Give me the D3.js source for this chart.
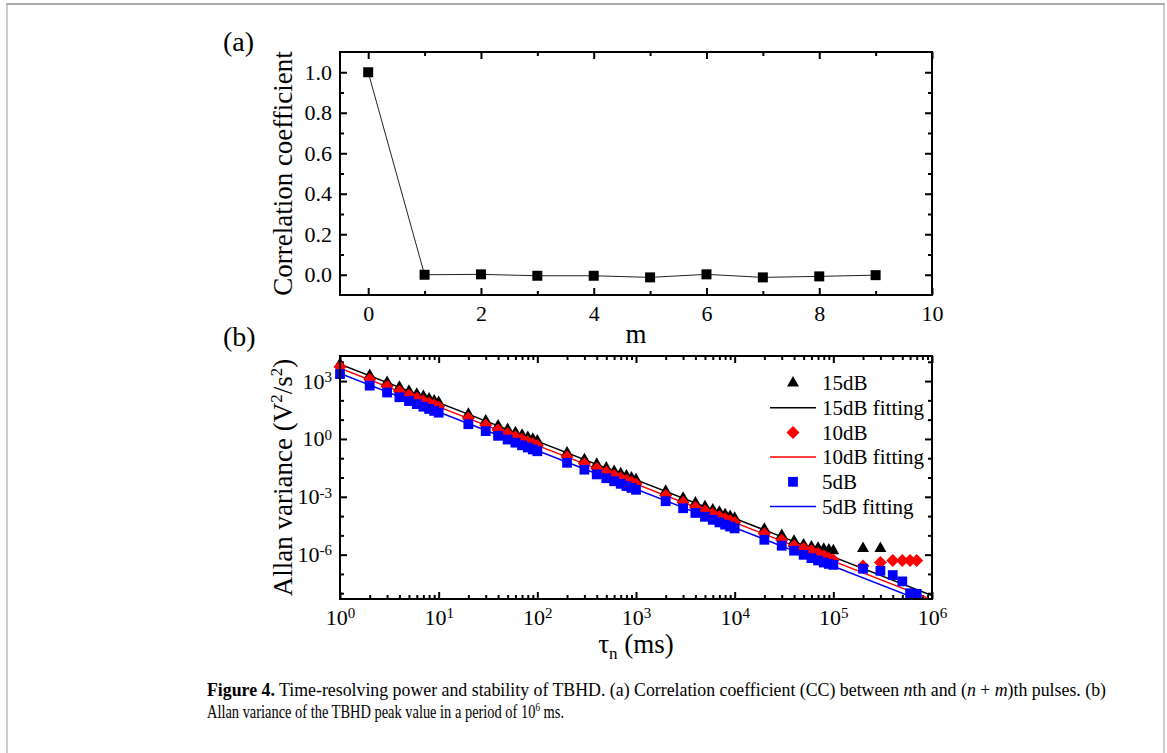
<!DOCTYPE html>
<html>
<head>
<meta charset="utf-8">
<script src="https://cdn.jsdelivr.net/npm/d3@7"></script>
<style>
  html, body { margin: 0; padding: 0; background: #fff; }
  svg text { font-family: "Liberation Serif", "Times New Roman", serif; fill: #000; }
</style>
</head>
<body>
<svg id="fig" width="1167" height="753"></svg>
<script>
// ---- panel (a) data: correlation coefficient vs m
const mVals = [0, 1, 2, 3, 4, 5, 6, 7, 8, 9];
const ccVals = [1.0, 0.0, 0.002, -0.005, -0.005, -0.013, 0.002, -0.013, -0.008, -0.002];
const mTicks = [0, 2, 4, 6, 8, 10];
const mMinor = [1, 3, 5, 7, 9];
const ccTicks = [0, 0.2, 0.4, 0.6, 0.8, 1.0];
const ccMinor = [0.1, 0.3, 0.5, 0.7, 0.9];

// ---- panel (b) data: Allan variance vs tau (ms)
const tau15 = [1, 2, 3, 4, 5, 6, 7, 8, 9, 10, 20, 30, 40, 50, 60, 70, 80, 90, 100,
  200, 300, 400, 500, 600, 700, 800, 900, 1000, 2000, 3000, 4000, 5000, 6000, 7000, 8000, 9000, 10000,
  20000, 30000, 40000, 50000, 60000, 70000, 80000, 90000, 100000, 200000, 300000];
const av15 = [7600, 1950, 860, 480, 300, 210, 160, 120, 95, 78,
  19, 8.6, 4.8, 3.1, 2.1, 1.55, 1.2, 0.96, 0.78,
  0.19, 0.085, 0.049, 0.031, 0.021, 0.0158, 0.012, 0.0095, 0.0077,
  1.95e-3, 8.6e-4, 4.8e-4, 3.1e-4, 2.1e-4, 1.6e-4, 1.2e-4, 9.6e-5, 7.8e-5,
  2.1e-5, 1.0e-5, 5.0e-6, 3.2e-6, 2.5e-6, 2.2e-6, 1.9e-6, 1.75e-6, 1.6e-6,
  2.1e-6, 2.1e-6];

const tau10 = [1, 2, 3, 4, 5, 6, 7, 8, 9, 10, 20, 30, 40, 50, 60, 70, 80, 90, 100,
  200, 300, 400, 500, 600, 700, 800, 900, 1000, 2000, 3000, 4000, 5000, 6000, 7000, 8000, 9000, 10000,
  20000, 30000, 40000, 50000, 60000, 70000, 80000, 90000, 100000,
  200000, 300000, 400000, 500000, 600000, 700000];
const av10 = [5500, 1200, 520, 290, 185, 128, 94, 72, 57, 46,
  11.8, 5.1, 2.9, 1.85, 1.3, 0.94, 0.72, 0.57, 0.46,
  0.115, 0.052, 0.029, 0.0185, 0.0128, 0.0094, 0.0073, 0.0057, 0.0046,
  1.16e-3, 5.1e-4, 2.9e-4, 1.85e-4, 1.3e-4, 9.5e-5, 7.2e-5, 5.7e-5, 4.7e-5,
  1.2e-5, 5.6e-6, 2.8e-6, 2.1e-6, 1.6e-6, 1.15e-6, 8.8e-7, 6.6e-7, 5.3e-7,
  2.6e-7, 3.9e-7, 5.0e-7, 5.0e-7, 5.0e-7, 5.0e-7];

const tau5 = tau10;
const av5 = [2300, 580, 255, 145, 92, 64, 47, 36, 28.5, 23,
  5.8, 2.55, 1.45, 0.93, 0.64, 0.47, 0.36, 0.285, 0.23,
  0.058, 0.0255, 0.0145, 0.0092, 0.0064, 0.0047, 0.0036, 0.0029, 0.0023,
  5.9e-4, 2.55e-4, 1.45e-4, 9.2e-5, 6.4e-5, 4.7e-5, 3.6e-5, 2.85e-5, 2.3e-5,
  5.9e-6, 2.9e-6, 1.6e-6, 9.8e-7, 6.6e-7, 5.0e-7, 3.9e-7, 3.3e-7, 2.95e-7,
  1.86e-7, 1.45e-7, 8.7e-8, 4.1e-8, 1.0e-8, 9.3e-9];

// fitted lines (end points, slope -2 on log-log)
const fitTau = [1, 1e6];
const fit15 = [7600, 7.6e-9];
const fit10 = [4600, 4.6e-9];
const fit5 = [2500, 2.5e-9];

const tauTicks = [1, 10, 100, 1e3, 1e4, 1e5, 1e6];
const avTicks = [1e3, 1, 1e-3, 1e-6];
const avMinor = [1e4, 1e2, 10, 0.1, 0.01, 1e-4, 1e-5, 1e-7, 1e-8];
const series = [
  {name: "15dB", tau: tau15, val: av15, fit: fit15, color: "#000000", shape: "tri"},
  {name: "10dB", tau: tau10, val: av10, fit: fit10, color: "#ff0000", shape: "dia"},
  {name: "5dB", tau: tau5, val: av5, fit: fit5, color: "#0000ff", shape: "sq"}
];

const FONT = '"Liberation Serif", "Times New Roman", serif';
const svg = d3.select("#fig");

// outer figure box
svg.append("rect").attr("x", 7).attr("y", 4).attr("width", 1157).attr("height", 800)
    .attr("fill", "none").attr("stroke", "#cdcdcd").attr("stroke-width", 2);
svg.append("line").attr("x1", 6).attr("x2", 1165).attr("y1", 4).attr("y2", 4)
    .attr("stroke", "#8c8c8c").attr("stroke-width", 1);

// axis helper: inward ticks, no domain line
function addAxis(g, axis, tr, values, size, fmt, pad) {
    const a = g.append("g").attr("transform", tr)
        .call(axis.tickValues(values).tickSize(size).tickSizeOuter(0)
            .tickPadding(pad || 0).tickFormat(fmt || (() => "")));
    a.select(".domain").remove();
    a.selectAll("line").attr("stroke", "#000").attr("stroke-width", 2);
    a.selectAll("text").attr("font-family", FONT).attr("font-size", 22).attr("fill", "#000");
    return a;
}

function powLabels(a) {
    a.selectAll(".tick text").each(function (d) {
        const t = d3.select(this);
        t.text("10");
        t.append("tspan").attr("dy", "-0.45em").attr("font-size", 15)
            .text(Math.round(Math.log10(d)));
    });
}

// ================= panel (a)
const A = {left: 340, right: 932, top: 52, bottom: 295};
const xA = d3.scaleLinear().domain([-0.5, 10]).range([A.left, A.right]);
const yA = d3.scaleLinear().domain([-0.1, 1.1]).range([A.bottom, A.top]);
const gA = svg.append("g");

addAxis(gA, d3.axisBottom(xA), `translate(0,${A.bottom})`, mTicks, -7, d3.format("d"), 10);
addAxis(gA, d3.axisBottom(xA), `translate(0,${A.bottom})`, mMinor, -4);
addAxis(gA, d3.axisTop(xA), `translate(0,${A.top})`, mTicks, -7);
addAxis(gA, d3.axisTop(xA), `translate(0,${A.top})`, mMinor, -4);
addAxis(gA, d3.axisLeft(yA), `translate(${A.left},0)`, ccTicks, -7, d3.format(".1f"), 8);
addAxis(gA, d3.axisLeft(yA), `translate(${A.left},0)`, ccMinor, -4);
addAxis(gA, d3.axisRight(yA), `translate(${A.right},0)`, ccTicks, -7);
addAxis(gA, d3.axisRight(yA), `translate(${A.right},0)`, ccMinor, -4);

gA.append("rect").attr("x", A.left).attr("y", A.top)
    .attr("width", A.right - A.left).attr("height", A.bottom - A.top)
    .attr("fill", "none").attr("stroke", "#000").attr("stroke-width", 2);

const ccData = mVals.map((m, i) => [m, ccVals[i]]);
gA.append("path").datum(ccData)
    .attr("d", d3.line().x(d => xA(d[0])).y(d => yA(d[1])))
    .attr("fill", "none").attr("stroke", "#222").attr("stroke-width", 1);
gA.selectAll("rect.pt").data(ccData).enter().append("rect").attr("class", "pt")
    .attr("x", d => xA(d[0]) - 5).attr("y", d => yA(d[1]) - 5)
    .attr("width", 10).attr("height", 10).attr("fill", "#000");

gA.append("text").attr("x", 223).attr("y", 51).attr("font-size", 28).text("(a)");
gA.append("text").attr("x", (A.left + A.right) / 2).attr("y", 343)
    .attr("text-anchor", "middle").attr("font-size", 27).text("m");
gA.append("text").attr("transform", `translate(292,${(A.top + A.bottom) / 2}) rotate(-90)`)
    .attr("text-anchor", "middle").attr("font-size", 27).text("Correlation coefficient");

// ================= panel (b)
const B = {left: 340, right: 932, top: 356, bottom: 599};
const xB = d3.scaleLog().domain([1, 1e6]).range([B.left, B.right]);
const yB = d3.scaleLog().domain([Math.pow(10, -8.3), Math.pow(10, 4.3)]).range([B.bottom, B.top]);
const gB = svg.append("g");

const tauMinor = [];
for (let p = 1; p < 1e6; p *= 10) for (let k = 2; k <= 9; k++) tauMinor.push(k * p);

powLabels(addAxis(gB, d3.axisBottom(xB), `translate(0,${B.bottom})`, tauTicks, -7, d3.format("d"), 10));
addAxis(gB, d3.axisBottom(xB), `translate(0,${B.bottom})`, tauMinor, -4);
addAxis(gB, d3.axisTop(xB), `translate(0,${B.top})`, tauTicks, -7);
addAxis(gB, d3.axisTop(xB), `translate(0,${B.top})`, tauMinor, -4);
powLabels(addAxis(gB, d3.axisLeft(yB), `translate(${B.left},0)`, avTicks, -7, d3.format("d"), 8));
addAxis(gB, d3.axisLeft(yB), `translate(${B.left},0)`, avMinor, -4);
addAxis(gB, d3.axisRight(yB), `translate(${B.right},0)`, avTicks, -7);
addAxis(gB, d3.axisRight(yB), `translate(${B.right},0)`, avMinor, -4);

svg.append("clipPath").attr("id", "clipB").append("rect")
    .attr("x", B.left).attr("y", B.top).attr("width", B.right - B.left).attr("height", B.bottom - B.top);

const fitLine = d3.line().x(d => xB(d[0])).y(d => yB(d[1]));
series.forEach(s => {
    gB.append("path").datum(fitTau.map((t, i) => [t, s.fit[i]]))
        .attr("clip-path", "url(#clipB)")
        .attr("d", fitLine).attr("fill", "none").attr("stroke", s.color).attr("stroke-width", 1.5);
});

const shapes = {
    tri: d3.symbol().type(d3.symbolTriangle).size(62),
    dia: d3.symbol().type(d3.symbolSquare).size(84),
    sq: d3.symbol().type(d3.symbolSquare).size(96)
};
function markerTransform(shape, x, y) {
    return shape === "dia" ? `translate(${x},${y}) rotate(45)` : `translate(${x},${y})`;
}

series.forEach(s => {
    const pts = s.tau.map((t, i) => [t, s.val[i]]);
    gB.append("g").selectAll("path").data(pts).enter().append("path")
        .attr("d", shapes[s.shape]())
        .attr("transform", d => markerTransform(s.shape, xB(d[0]), yB(d[1])))
        .attr("fill", s.color);
});

gB.append("rect").attr("x", B.left).attr("y", B.top)
    .attr("width", B.right - B.left).attr("height", B.bottom - B.top)
    .attr("fill", "none").attr("stroke", "#000").attr("stroke-width", 2);

// legend
const leg = gB.append("g");
series.forEach((s, i) => {
    const y0 = 383 + i * 49.4;
    leg.append("path").attr("d", shapes[s.shape]())
        .attr("transform", markerTransform(s.shape, 793, y0)).attr("fill", s.color);
    leg.append("text").attr("x", 822).attr("y", y0).attr("dy", "0.35em")
        .attr("font-size", 21).text(s.name);
    leg.append("line").attr("x1", 770).attr("x2", 816).attr("y1", y0 + 24.7).attr("y2", y0 + 24.7)
        .attr("stroke", s.color).attr("stroke-width", 1.5);
    leg.append("text").attr("x", 822).attr("y", y0 + 24.7).attr("dy", "0.35em")
        .attr("font-size", 21).text(s.name + " fitting");
});

gB.append("text").attr("x", 223).attr("y", 346).attr("font-size", 28).text("(b)");
const xt = gB.append("text").attr("x", (B.left + B.right) / 2).attr("y", 653)
    .attr("text-anchor", "middle").attr("font-size", 27);
xt.append("tspan").text("\u03c4");
xt.append("tspan").attr("dy", 6).attr("font-size", 17).text("n");
xt.append("tspan").attr("dy", -6).text(" (ms)");

const yt = gB.append("text").attr("transform", `translate(292,${(B.top + B.bottom) / 2}) rotate(-90)`)
    .attr("text-anchor", "middle").attr("font-size", 27);
yt.append("tspan").text("Allan variance (V");
yt.append("tspan").attr("dy", -10).attr("font-size", 17).text("2");
yt.append("tspan").attr("dy", 10).text("/s");
yt.append("tspan").attr("dy", -10).attr("font-size", 17).text("2");
yt.append("tspan").attr("dy", 10).text(")");

// caption: each line squeezed to its width in the reference
const cap1 = svg.append("text").attr("x", 207).attr("y", 696).attr("font-size", 19).attr("fill", "#1a1a1a")
    .attr("textLength", 899).attr("lengthAdjust", "spacingAndGlyphs");
cap1.append("tspan").attr("font-weight", "bold").text("Figure 4.");
cap1.append("tspan").text(" Time-resolving power and stability of TBHD. (a) Correlation coefficient (CC) between ");
cap1.append("tspan").attr("font-style", "italic").text("n");
cap1.append("tspan").text("th and (");
cap1.append("tspan").attr("font-style", "italic").text("n");
cap1.append("tspan").text(" + ");
cap1.append("tspan").attr("font-style", "italic").text("m");
cap1.append("tspan").text(")th pulses. (b)");

const cap2 = svg.append("text").attr("x", 207).attr("y", 718).attr("font-size", 19).attr("fill", "#1a1a1a")
    .attr("textLength", 357).attr("lengthAdjust", "spacingAndGlyphs");
cap2.append("tspan").text("Allan variance of the TBHD peak value in a period of 10");
cap2.append("tspan").attr("dy", -7).attr("font-size", 12).text("6");
cap2.append("tspan").attr("dy", 7).text(" ms.");
</script>
</body>
</html>
